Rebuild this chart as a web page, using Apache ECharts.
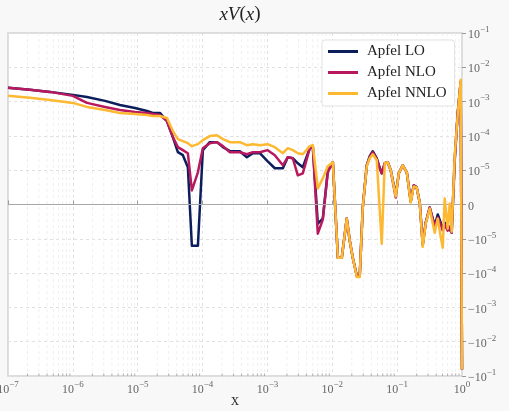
<!DOCTYPE html>
<html><head><meta charset="utf-8">
<script src="https://cdn.jsdelivr.net/npm/echarts@6/dist/echarts.min.js"></script>
<style>html,body{margin:0;padding:0;background:#f8f8f8}#c{width:509px;height:411px}</style>
</head><body><div id="c"></div>
<script>
const xValues = [1.0e-7, 2.18e-7, 4.44e-7, 1.0e-6, 1.65e-6, 3.13e-6, 5.32e-6, 9.06e-6, 1.39e-5, 1.71e-5,
  2.20e-5, 2.82e-5, 3.48e-5, 4.16e-5, 4.97e-5, 5.93e-5, 6.84e-5, 8.47e-5, 1.01e-4, 1.29e-4,
  1.66e-4, 2.06e-4, 2.64e-4, 3.76e-4, 4.82e-4, 5.96e-4, 7.64e-4, 1.01e-3, 1.30e-3, 1.73e-3,
  2.06e-3, 2.46e-3, 2.94e-3, 3.51e-3, 4.50e-3, 5.01e-3, 5.98e-3, 7.14e-3, 8.53e-3, 1.02e-2,
  1.22e-2, 1.40e-2, 1.67e-2, 1.86e-2, 2.07e-2, 2.39e-2, 2.65e-2, 2.95e-2, 3.40e-2, 3.78e-2,
  4.21e-2, 4.85e-2, 5.40e-2, 5.79e-2, 6.44e-2, 7.16e-2, 7.96e-2, 9.51e-2, 0.106, 0.122,
  0.141, 0.162, 0.180, 0.200, 0.223, 0.248, 0.276, 0.318, 0.379, 0.423,
  0.470, 0.505, 0.541, 0.602, 0.646, 0.693, 0.773, 0.859, 0.955, 1.0];

const loValues = [2.52e-3, 2.20e-3, 1.92e-3, 1.57e-3, 1.37e-3, 1.05e-3, 8.0e-4, 6.53e-4, 5.33e-4, 4.67e-4,
  4.67e-4, 2.72e-4, 9.23e-5, 3.35e-5, 2.74e-5, 1.22e-5, -1.59e-5, -1.59e-5, 3.84e-5, 6.58e-5,
  6.58e-5, 4.70e-5, 3.58e-5, 3.58e-5, 2.39e-5, 3.13e-5, 3.13e-5, 1.82e-5, 1.14e-5, 1.14e-5,
  2.39e-5, 2.23e-5, 1.59e-5, 1.22e-5, 4.39e-5, 5.02e-5, -5.57e-6, -4.11e-6, 9.97e-6, 1.71e-5,
  -3.58e-5, -3.58e-5, -4.11e-6, -1.14e-5, -3.58e-5, -1.21e-4, -1.21e-4, -8.8e-7, 1.39e-5, 2.56e-5,
  3.58e-5, 2.23e-5, 1.14e-5, 9.09e-6, 1.59e-5, 1.71e-5, 9.97e-6, 2.93e-6, 9.09e-6, 1.39e-5,
  9.38e-6, 8.8e-7, 5.57e-6, 4.99e-6, 5.9e-7, -1.49e-5, -5.28e-6, -8.8e-7, -6.16e-6, -2.93e-6,
  -5.28e-6, -7.04e-6, -5.28e-6, -6.45e-6, -6.16e-6, -8.21e-6, 1.95e-5, 4.67e-4, 3.79e-3, -6.44e-2];

const nloValues = [2.52e-3, 2.20e-3, 1.92e-3, 1.47e-3, 9.17e-4, 7.0e-4, 5.71e-4, 4.99e-4, 4.67e-4, 4.36e-4,
  4.07e-4, 2.72e-4, 9.23e-5, 4.70e-5, 3.84e-5, 3.13e-5, 4.11e-6, 9.38e-6, 4.39e-5, 6.15e-5,
  6.58e-5, 5.02e-5, 3.35e-5, 3.35e-5, 2.92e-5, 3.35e-5, 3.35e-5, 3.84e-5, 2.74e-5, 1.39e-5,
  2.39e-5, 2.23e-5, 8.5e-6, 9.09e-6, 4.39e-5, 4.70e-5, -8.50e-6, -4.40e-6, 9.38e-6, 1.71e-5,
  -3.58e-5, -3.58e-5, -4.11e-6, -1.14e-5, -3.58e-5, -1.21e-4, -1.21e-4, -8.8e-7, 1.39e-5, 2.39e-5,
  3.35e-5, 2.09e-5, 1.14e-5, 9.09e-6, 1.59e-5, 1.71e-5, 9.97e-6, 2.05e-6, 9.09e-6, 1.39e-5,
  9.38e-6, 8.8e-7, 5.57e-6, 4.99e-6, 5.9e-7, -1.49e-5, -5.28e-6, -8.8e-7, -6.45e-6, -3.81e-6,
  -5.87e-6, -7.62e-6, -5.87e-6, -7.62e-6, -6.45e-6, -8.21e-6, 2.23e-5, 4.67e-4, 3.79e-3, -6.44e-2];

const nnloValues = [1.47e-3, 1.29e-3, 1.12e-3, 9.17e-4, 7.0e-4, 5.71e-4, 4.67e-4, 4.36e-4, 4.07e-4, 3.81e-4,
  3.81e-4, 3.33e-4, 1.38e-4, 8.05e-5, 7.05e-5, 6.15e-5, 5.02e-5, 5.75e-5, 7.54e-5, 9.86e-5,
  1.05e-4, 8.05e-5, 6.58e-5, 6.58e-5, 5.37e-5, 5.75e-5, 5.37e-5, 5.75e-5, 4.70e-5, 3.13e-5,
  4.39e-5, 3.84e-5, 3.13e-5, 2.92e-5, 5.02e-5, 5.37e-5, 4.69e-6, 7.62e-6, 1.30e-5, 1.71e-5,
  -3.58e-5, -3.58e-5, -4.11e-6, -1.14e-5, -3.58e-5, -1.29e-4, -1.29e-4, -8.8e-7, 1.30e-5, 2.23e-5,
  2.92e-5, 1.95e-5, -1.76e-6, -1.39e-5, 1.59e-5, 1.71e-5, 9.97e-6, 2.35e-6, 9.09e-6, 1.39e-5,
  9.38e-6, 5.9e-7, 5.28e-6, 4.99e-6, 5.9e-7, -1.71e-5, -5.57e-6, -1.17e-6, -8.21e-6, -4.11e-6,
  -9.38e-6, -1.82e-5, 1.76e-6, -7.04e-6, 2.9e-7, -7.92e-6, 2.74e-5, 4.07e-4, 4.33e-3, -6.44e-2];

const seriesNames = ['Apfel LO', 'Apfel NLO', 'Apfel NNLO'];
const seriesColors = ['#0c1d5c', '#b8195e', '#fdb931'];
const xTickExponents = [-7, -6, -5, -4, -3, -2, -1, 0];
const yTickValues = [-1e-1, -1e-2, -1e-3, -1e-4, -1e-5, 0, 1e-5, 1e-4, 1e-3, 1e-2, 1e-1];
const LINTHRESH = 1e-5;

function symlog(v) {
  const a = Math.abs(v);
  if (a <= LINTHRESH) return v / LINTHRESH;
  return Math.sign(v) * (1 + Math.log10(a / LINTHRESH));
}
function sup(base, exp) { return '{b|' + base + '}{s|' + String(exp).replace('-', '\u2212') + '}'; }

const minorX = [];
for (let i = 0; i < xTickExponents.length - 1; i++) {
  for (let m = 2; m <= 9; m++) minorX.push(m * Math.pow(10, xTickExponents[i]));
}
const yMin = symlog(yTickValues[0]), yMax = symlog(yTickValues[yTickValues.length - 1]);

const serif = 'Liberation Serif';
const tickRich = {
  b: { fontFamily: serif, fontSize: 12, color: '#666', verticalAlign: 'bottom', lineHeight: 16 },
  s: { fontFamily: serif, fontSize: 9, color: '#666', verticalAlign: 'top', lineHeight: 16 }
};

const chart = echarts.init(document.getElementById('c'), null, { renderer: 'canvas' });
const lineSeries = [loValues, nloValues, nnloValues].map((vals, k) => ({
  type: 'line', name: seriesNames[k], z: 3 + k,
  data: xValues.map((x, i) => [x, symlog(vals[i])]),
  showSymbol: false, symbol: 'none', smooth: false,
  lineStyle: { color: seriesColors[k], width: 2.5, join: 'round' },
  itemStyle: { color: seriesColors[k] },
  emphasis: { disabled: true }
}));

chart.setOption({
  animation: false,
  backgroundColor: '#f8f8f8',
  title: {
    text: '{i|xV}{n|(}{i|x}{n|)}', left: 235, textAlign: 'center', top: 0,
    textStyle: { fontWeight: 'normal', rich: {
      i: { fontFamily: serif, fontStyle: 'italic', fontWeight: 'normal', fontSize: 19, color: '#222' },
      n: { fontFamily: serif, fontWeight: 'normal', fontSize: 19, color: '#222' } } }
  },
  legend: {
    data: seriesNames, orient: 'vertical', left: 322, top: 40,
    icon: 'rect', itemWidth: 30, itemHeight: 3, itemGap: 6,
    backgroundColor: '#ffffff', borderColor: '#e3e3e3', borderWidth: 1, borderRadius: 3,
    padding: [4, 8, 5, 6],
    textStyle: { fontFamily: serif, fontSize: 15, color: '#222', padding: [0, 0, 0, 4] }
  },
  grid: { left: 8, right: 47, top: 33, bottom: 35, show: true, backgroundColor: '#ffffff',
    borderColor: '#d2d2d2', borderWidth: 1.5, containLabel: false, outerBoundsMode: 'none' },
  xAxis: {
    type: 'log', logBase: 10, min: Math.pow(10, xTickExponents[0]),
    max: Math.pow(10, xTickExponents[xTickExponents.length - 1]), splitNumber: 7,
    axisLine: { show: false },
    axisTick: { show: true, inside: true, length: 4, lineStyle: { color: '#999' } },
    axisLabel: { margin: 4, formatter: v => sup('10', Math.round(Math.log10(v))), rich: tickRich },
    splitLine: { show: true, lineStyle: { color: '#e0e0e0', type: [3, 3], width: 1 } },
    name: 'x', nameLocation: 'middle', nameGap: 17, nameMoveOverlap: false,
    nameTextStyle: { fontFamily: serif, fontSize: 16, color: '#333' }
  },
  yAxis: {
    type: 'value', position: 'right', min: yMin, max: yMax, interval: 1,
    axisLine: { show: false },
    axisTick: { show: true, inside: false, length: 4, lineStyle: { color: '#999' } },
    axisLabel: { margin: 6, formatter: function (v) {
      const t = yTickValues.find(tv => Math.abs(symlog(tv) - v) < 1e-6);
      if (t === undefined) return '';
      if (t === 0) return '{b|0}';
      const e = Math.round(Math.log10(Math.abs(t)));
      return sup(t < 0 ? '\u221210' : '10', e);
    }, rich: tickRich },
    splitLine: { show: true, lineStyle: { color: '#e0e0e0', type: [3, 3], width: 1 } }
  },
  series: [{
    type: 'custom', name: 'minor', silent: true, z: 1,
    data: minorX.map(x => [x, 0]), encode: { x: 0, y: 1 },
    renderItem: function (params, api) {
      const x = api.value(0);
      const top = api.coord([x, yMax]);
      const bot = api.coord([x, yMin]);
      return { type: 'group', children: [
        { type: 'line', shape: { x1: top[0], y1: top[1], x2: bot[0], y2: bot[1] },
          style: { stroke: '#ececec', lineWidth: 0.8, lineDash: [3, 3] } },
        { type: 'line', shape: { x1: bot[0], y1: bot[1], x2: bot[0], y2: bot[1] - 2.5 },
          style: { stroke: '#999', lineWidth: 0.8 } }
      ] };
    },
    markLine: { silent: true, symbol: 'none', label: { show: false },
      lineStyle: { color: '#a8a8a8', type: 'solid', width: 1.2 }, data: [{ yAxis: 0 }] }
  }].concat(lineSeries)
});
</script></body></html>
